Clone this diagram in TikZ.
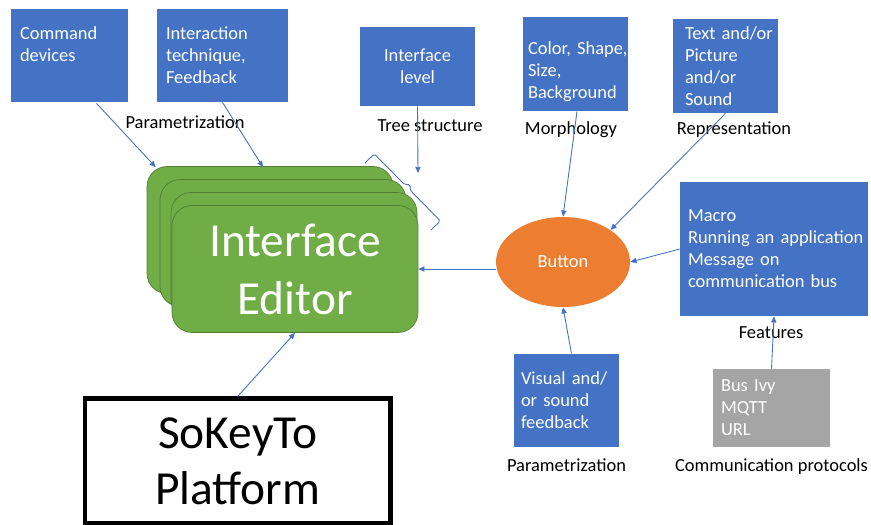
\documentclass[tikz,border=0pt]{standalone}
\usepackage{fontspec}
\setmainfont{Carlito}
\usetikzlibrary{arrows.meta,%
                positioning,%
                shapes.geometric,%
                calc}
\definecolor{box-blue}{RGB}{68,114,196}
\definecolor{line-blue}{RGB}{68,114,196}
\definecolor{ed-green}{RGB}{112,173,71}
\definecolor{dark-green}{RGB}{80,126,50}
\definecolor{btn-orange}{RGB}{237,125,49}
\definecolor{proto-grey}{RGB}{165,165,165}
\tikzset{
  boxtxt/.style={font=\fontsize{10.5}{12.5}\selectfont},
  bluebox/.style={boxtxt, fill=box-blue, text=white, align=left, inner ysep=0pt, minimum height=#1},
  edlayer/.style={draw=dark-green, fill=ed-green, rounded corners=0.4cm, minimum width=4.92cm, minimum height=2.54cm},
  conn/.style={line-blue, line width=0.5pt, -{Triangle[length=3.5pt,width=3pt]}},
  lbl/.style={boxtxt, inner sep=1pt},
}
\begin{document}
\begin{tikzpicture}[x=0.02cm, y=-0.02cm]
  \useasboundingbox (0,0) rectangle (871,524);

  % blue boxes
  \node[bluebox=1.86cm, text width=1.98cm, inner xsep=0.18cm] (cmd) at (69.5,55.5) {Command\\devices\\~};
  \node[bluebox=1.86cm, text width=2.26cm, inner xsep=0.18cm] (inter) at (222.5,55.5) {Interaction\\technique,\\Feedback};
  \node[bluebox=1.58cm, text width=2.02cm, inner xsep=0.14cm, align=center] (lvl) at (417.5,66.5) {Interface\\level};
  \node[bluebox=1.88cm, text width=1.9cm, inner xsep=0.1cm] (morph) at (575.5,64) {\rule{0pt}{16pt}\mbox{Color, Shape,}\\Size,\\Background};
  \node[bluebox=1.88cm, text width=1.62cm, inner xsep=0.24cm] (repr) at (725.5,66) {\mbox{Text and/or}\\Picture\\and/or\\Sound};
  \node[bluebox=2.68cm, text width=3.44cm, inner xsep=0.16cm] (feat) at (774,249) {Macro\\\mbox{Running an application}\\Message on\\\mbox{communication bus}};
  \node[bluebox=1.86cm, text width=1.82cm, inner xsep=0.14cm] (vis) at (566.5,400.5) {\mbox{Visual and/}\\or sound\\feedback};
  \node[bluebox=1.56cm, text width=2.02cm, inner xsep=0.16cm, fill=proto-grey] (proto) at (771.5,408) {Bus Ivy\\MQTT\\URL};

  % button
  \node[ellipse, boxtxt, fill=btn-orange, text=white, minimum width=2.68cm, minimum height=1.8cm] (btn) at (563,262) {Button};

  % editor, stacked
  \node[edlayer] (ed1) at (270,230) {};
  \node[edlayer] (ed2) at (283,243) {};
  \node[edlayer] (ed3) at (294,256) {};
  \node[edlayer, align=center, text=white, font=\fontsize{27}{33}\selectfont] (ed4) at (295,269) {Interface\\Editor};

  % platform
  \node[draw, line width=2.8pt, minimum width=6.11cm, minimum height=2.49cm, align=center, font=\fontsize{27}{32}\selectfont] (sky) at (237.75,461) {SoKeyTo\\Platform};

  % labels
  \node[lbl] (par1) at (185,122) {Parametrization};
  \node[lbl] (tree) at (430,126) {Tree structure};
  \node[lbl, below=0.17cm of morph, xshift=-0.09cm] (morphl) {Morphology};
  \node[lbl, below=0.13cm of repr, xshift=0.17cm] (reprl) {Representation};
  \node[lbl, below=0.17cm of feat, xshift=-0.06cm] (featl) {Features};
  \node[lbl, below=0.19cm of vis] (par2) {Parametrization};
  \node[lbl, below=0.19cm of proto] (protol) {Communication protocols};

  % brace
  \draw[line-blue, line width=0.5pt, rounded corners=1pt] (365,163) -- (374.3,153.9) -- (404.5,184.5) -- (410.1,184.6) -- (410.1,190.2) -- (440.3,220.9) -- (431,230);
  \coordinate (brtip) at (418,173);

  % connectors
  \draw[conn] ([shift={(27,1)}]cmd.south) -- ([shift={(9,1)}]ed1.north west);
  \draw[conn] (inter.south) -- ([shift={(-7,1)}]ed1.north);
  \draw[conn] (lvl.south) -- (brtip);
  \draw[conn] ([shift={(1.5,0)}]morph.south) -- (btn.north);
  \draw[conn] (repr.south) -- (btn.34);
  \draw[conn] (feat.west) -- (btn.east);
  \draw[conn] (proto.north) -- (feat.south);
  \draw[conn] ([shift={(5,0)}]vis.north) -- (btn.south);
  \draw[conn] (ed4.east -| btn.west) -- (ed4.east);
  \draw[conn] (sky.north) -- (ed4.south);
\end{tikzpicture}
\end{document}
